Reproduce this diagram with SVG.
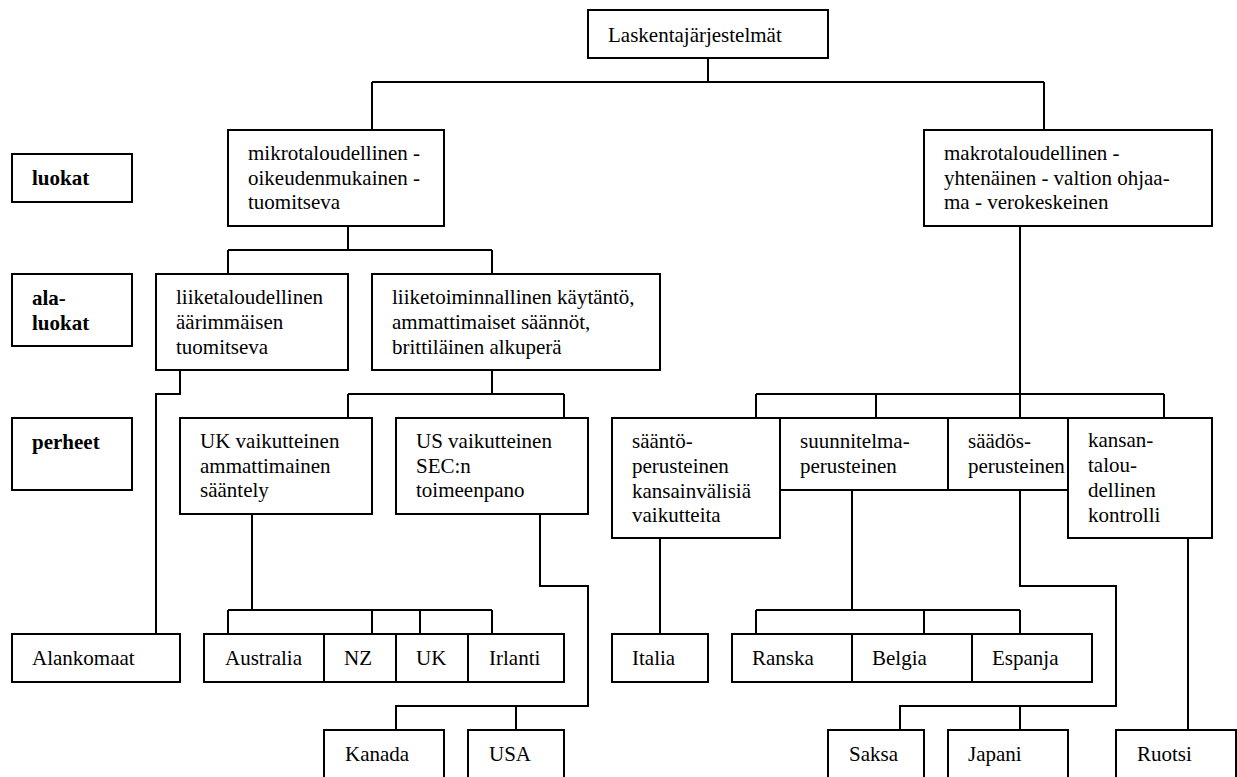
<svg xmlns="http://www.w3.org/2000/svg" width="1237" height="777" viewBox="0 0 1237 777">
<style>
rect{fill:#fff;stroke:#000;stroke-width:2}
text{font-family:'Liberation Serif','DejaVu Serif',serif;font-size:21px;fill:#000}
.b{font-weight:bold}
#connectors path{fill:none;stroke:#000;stroke-width:2}
</style>
<rect x="0" y="0" width="1237" height="777" style="stroke:none"/>
<g id="connectors">
<path d="M708 58V82M372 82H1044M372 82V130M1044 82V130"/>
<path d="M348 226V250M228 250H492M228 250V274M492 250V274"/>
<path d="M180 370V394H156V634"/>
<path d="M492 370V394M348 394H564M348 394V418M564 394V418"/>
<path d="M252 514V610M228 610H492M228 610V634M372 610V634M420 610V634M492 610V634"/>
<path d="M540 514V586H588V706H396V730M516 706V730"/>
<path d="M1020 226V394M756 394H1164M756 394V418M876 394V418M1020 394V418M1164 394V418"/>
<path d="M660 538V634"/>
<path d="M852 490V610M756 610H1020M756 610V634M924 610V634M1020 610V634"/>
<path d="M1020 490V586H1116V706H900V730M1020 706V730"/>
<path d="M1188 538V730"/>
</g>
<g font-family="Liberation Serif, DejaVu Serif, serif">
<g id="root"><rect x="588" y="10" width="240" height="48"/><text x="608" y="42">Laskentajärjestelmät</text></g>
<g id="lbl-luokat"><rect x="12" y="154" width="120" height="48"/><text class="b" x="32" y="185">luokat</text></g>
<g id="lbl-alaluokat"><rect x="12" y="274" width="120" height="72"/><text class="b" x="32" y="305">ala-</text><text class="b" x="32" y="330">luokat</text></g>
<g id="lbl-perheet"><rect x="12" y="418" width="120" height="72"/><text class="b" x="32" y="449">perheet</text></g>
<g id="mikro"><rect x="228" y="130" width="216" height="96"/><text x="248" y="160">mikrotaloudellinen -</text><text x="248" y="184.5">oikeudenmukainen -</text><text x="248" y="209">tuomitseva</text></g>
<g id="makro"><rect x="924" y="130" width="288" height="96"/><text x="944" y="160">makrotaloudellinen -</text><text x="944" y="184.5">yhtenäinen - valtion ohjaa-</text><text x="944" y="209">ma - verokeskeinen</text></g>
<g id="liiketaloudellinen"><rect x="156" y="274" width="192" height="96"/><text x="176" y="304">liiketaloudellinen</text><text x="176" y="329">äärimmäisen</text><text x="176" y="354">tuomitseva</text></g>
<g id="liiketoiminnallinen"><rect x="372" y="274" width="288" height="96"/><text x="392" y="304">liiketoiminnallinen käytäntö,</text><text x="392" y="329">ammattimaiset säännöt,</text><text x="392" y="354">brittiläinen alkuperä</text></g>
<g id="uk-vaik"><rect x="180" y="418" width="192" height="96"/><text x="200" y="448">UK vaikutteinen</text><text x="200" y="473">ammattimainen</text><text x="200" y="497">sääntely</text></g>
<g id="us-vaik"><rect x="396" y="418" width="192" height="96"/><text x="416" y="448">US vaikutteinen</text><text x="416" y="473">SEC:n</text><text x="416" y="497">toimeenpano</text></g>
<g id="saanto"><rect x="612" y="418" width="168" height="120"/><text x="632" y="448">sääntö-</text><text x="632" y="473">perusteinen</text><text x="632" y="497.5">kansainvälisiä</text><text x="632" y="522">vaikutteita</text></g>
<g id="suunnitelma"><rect x="780" y="418" width="168" height="72"/><text x="800" y="448">suunnitelma-</text><text x="800" y="473">perusteinen</text></g>
<g id="saados"><rect x="948" y="418" width="144" height="72"/><text x="968" y="448">säädös-</text><text x="968" y="473">perusteinen</text></g>
<g id="kansan"><rect x="1068" y="418" width="144" height="120"/><text x="1088" y="447">kansan-</text><text x="1088" y="472">talou-</text><text x="1088" y="497">dellinen</text><text x="1088" y="522">kontrolli</text></g>
<g id="alankomaat"><rect x="12" y="634" width="168" height="48"/><text x="32" y="665">Alankomaat</text></g>
<g id="australia"><rect x="204" y="634" width="120" height="48"/><text x="225" y="665">Australia</text></g>
<g id="nz"><rect x="324" y="634" width="72" height="48"/><text x="344" y="665">NZ</text></g>
<g id="uk"><rect x="396" y="634" width="72" height="48"/><text x="416" y="665">UK</text></g>
<g id="irlanti"><rect x="468" y="634" width="96" height="48"/><text x="489" y="665">Irlanti</text></g>
<g id="italia"><rect x="612" y="634" width="96" height="48"/><text x="632" y="665">Italia</text></g>
<g id="ranska"><rect x="732" y="634" width="120" height="48"/><text x="752" y="665">Ranska</text></g>
<g id="belgia"><rect x="852" y="634" width="120" height="48"/><text x="872" y="665">Belgia</text></g>
<g id="espanja"><rect x="972" y="634" width="120" height="48"/><text x="992" y="665">Espanja</text></g>
<g id="kanada"><rect x="324" y="730" width="120" height="60"/><text x="345" y="761">Kanada</text></g>
<g id="usa"><rect x="468" y="730" width="96" height="60"/><text x="489" y="761">USA</text></g>
<g id="saksa"><rect x="828" y="730" width="96" height="60"/><text x="849" y="761">Saksa</text></g>
<g id="japani"><rect x="948" y="730" width="120" height="60"/><text x="968" y="761">Japani</text></g>
<g id="ruotsi"><rect x="1116" y="730" width="120" height="60"/><text x="1137" y="761">Ruotsi</text></g>
</g>
</svg>
